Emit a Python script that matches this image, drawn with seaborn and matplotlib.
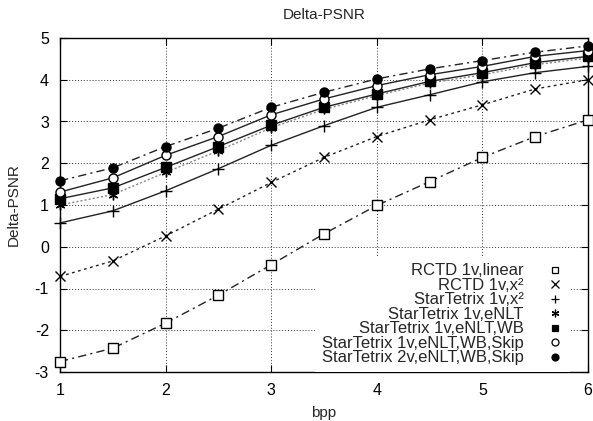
import matplotlib
matplotlib.use("Agg")
import matplotlib.pyplot as plt
from matplotlib.lines import Line2D
import numpy as np
import pandas as pd
import seaborn as sns

bpp = [1.0, 1.5, 2.0, 2.5, 3.0, 3.5, 4.0, 4.5, 5.0, 5.5, 6.0]

rctd_linear = [-2.75, -2.43, -1.83, -1.16, -0.43, 0.31, 0.99, 1.56, 2.14, 2.64, 3.04]
rctd_x2 = [-0.71, -0.34, 0.26, 0.90, 1.54, 2.14, 2.64, 3.04, 3.40, 3.78, 4.00]
st_x2 = [0.57, 0.86, 1.34, 1.87, 2.43, 2.90, 3.34, 3.64, 3.95, 4.17, 4.32]
st_enlt = [1.00, 1.25, 1.78, 2.30, 2.85, 3.29, 3.62, 3.92, 4.12, 4.36, 4.52]
st_enlt_wb = [1.15, 1.41, 1.90, 2.40, 2.91, 3.34, 3.66, 3.96, 4.17, 4.41, 4.56]
st_enlt_wb_skip = [1.31, 1.65, 2.19, 2.64, 3.16, 3.54, 3.86, 4.12, 4.32, 4.56, 4.70]
st2_enlt_wb_skip = [1.58, 1.89, 2.40, 2.84, 3.34, 3.70, 4.02, 4.26, 4.46, 4.66, 4.81]

labels = [
    "RCTD 1v,linear",
    "RCTD 1v,x\u00b2",
    "StarTetrix 1v,x\u00b2",
    "StarTetrix 1v,eNLT",
    "StarTetrix 1v,eNLT,WB",
    "StarTetrix 1v,eNLT,WB,Skip",
    "StarTetrix 2v,eNLT,WB,Skip",
]
series = [rctd_linear, rctd_x2, st_x2, st_enlt, st_enlt_wb, st_enlt_wb_skip, st2_enlt_wb_skip]

# line / marker style per series
dashdot = (0, (6, 3, 1.5, 3))
styles = [
    dict(ls=dashdot, color="#222222", marker="s", mfc="white", ms=7.0, lms=4.5),
    dict(ls=(0, (2, 2.5)), color="#222222", marker="x", mfc="black", ms=7.0, lms=5.5),
    dict(ls="-", color="#222222", marker="+", mfc="black", ms=8.0, lms=6.0),
    dict(ls=(0, (1.5, 1.5)), color="#888888", marker=(6, 2, 0), mfc="black", ms=7.0, lms=5.5),
    dict(ls="-", color="#222222", marker="s", mfc="black", ms=7.0, lms=5.0),
    dict(ls="-", color="#222222", marker="o", mfc="white", ms=6.5, lms=5.0),
    dict(ls=dashdot, color="#222222", marker="o", mfc="black", ms=6.5, lms=5.0),
]

df = pd.concat(
    [pd.DataFrame({"bpp": bpp, "dpsnr": vals, "method": lab}) for lab, vals in zip(labels, series)],
    ignore_index=True,
)

sns.set_style("ticks")
plt.rcParams["font.family"] = ["Liberation Sans", "DejaVu Sans"]
plt.rcParams["axes.unicode_minus"] = False

fig = plt.figure(figsize=(5.93, 4.21), dpi=100)
ax = fig.add_axes([60 / 593, 1 - 372 / 421, 528 / 593, 334 / 421])

for lab, st in zip(labels, styles):
    sub = df[df["method"] == lab]
    sns.lineplot(
        data=sub, x="bpp", y="dpsnr", ax=ax,
        color=st["color"], linestyle=st["ls"], linewidth=1.0,
        marker=st["marker"], markerfacecolor=st["mfc"], markeredgecolor="black",
        markersize=st["ms"], markeredgewidth=1.0, legend=False, zorder=3,
        clip_on=False,
    )

ax.set_xlim(1, 6)
ax.set_ylim(-3, 5)
ax.set_xticks([1, 2, 3, 4, 5, 6])
ax.set_yticks([-3, -2, -1, 0, 1, 2, 3, 4, 5])
ax.grid(True, linestyle=(0, (1, 2)), color="#333333", linewidth=0.7, zorder=0)
ax.set_axisbelow(True)
ax.tick_params(direction="in", length=5, width=0.8, top=True, right=True,
               labelsize=11.5, colors="black")
ax.tick_params(axis="x", pad=8)
ax.tick_params(axis="y", pad=8)
for s in ax.spines.values():
    s.set_linewidth(1.0)
    s.set_color("black")

ax.set_title("Delta-PSNR", fontsize=11, pad=14)
ax.set_xlabel("bpp", fontsize=11, labelpad=6)
ax.set_ylabel("Delta-PSNR", fontsize=11, labelpad=10)

handles = [
    Line2D([], [], linestyle="none", marker=st["marker"], markerfacecolor=st["mfc"],
           markeredgecolor="black", markersize=st["lms"], markeredgewidth=0.9)
    for st in styles
]
leg = ax.legend(handles, labels, loc="lower right", bbox_to_anchor=(0.965, 0.0),
                markerfirst=False, frameon=True, fancybox=False, framealpha=1,
                edgecolor="none", fontsize=12, labelspacing=-0.03, handlelength=1.0,
                handletextpad=1.36, borderpad=0.4, borderaxespad=0.0)
leg.set_zorder(5)

fig.savefig("out.png", dpi=100)
